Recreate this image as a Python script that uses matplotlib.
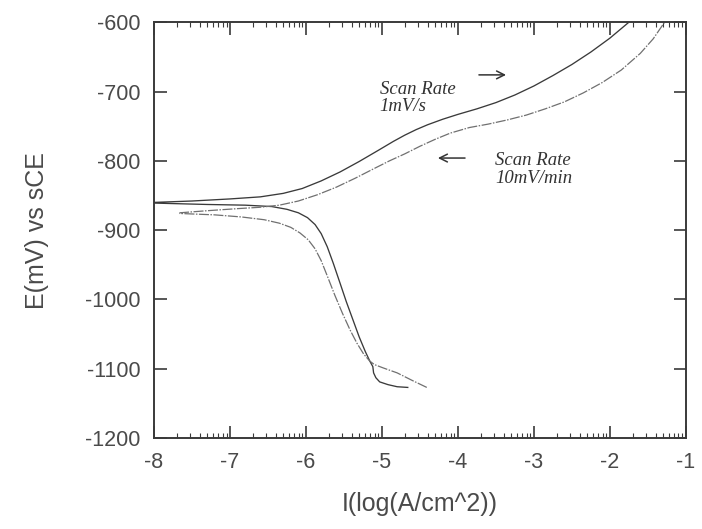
import numpy as np
import matplotlib
matplotlib.use('Agg')
import matplotlib.pyplot as plt
from matplotlib.ticker import FixedLocator

plt.rcParams['axes.unicode_minus'] = False

# curve A - scan rate 1 mV/s (solid)
a_cath_x = [-4.66, -4.80, -4.92, -5.03, -5.08, -5.11, -5.12, -5.16, -5.22, -5.30, -5.38, -5.47, -5.55,
            -5.64, -5.72, -5.80, -5.88, -5.98, -6.10, -6.25, -6.45, -6.8, -7.3, -8.0]
a_cath_y = [-1127, -1126, -1123, -1119, -1113, -1106, -1097, -1089, -1075, -1054, -1030, -1003, -977,
            -948, -924, -905, -892, -882, -875, -870, -866, -864, -863, -861]
a_anod_x = [-8.0, -7.5, -7.0, -6.6, -6.3, -6.05, -5.8, -5.55, -5.3, -5.05, -4.85, -4.7, -4.55, -4.4,
            -4.2, -4.0, -3.75, -3.5, -3.25, -3.0, -2.75, -2.5, -2.25, -2.0, -1.75]
a_anod_y = [-860, -858, -855, -852, -847, -840, -829, -816, -801, -785, -772, -763, -755, -748,
            -740, -733, -725, -716, -705, -692, -677, -661, -643, -623, -600]

# curve B - scan rate 10 mV/min (lighter)
b_cath_x = [-4.41, -4.60, -4.80, -4.98, -5.10, -5.16, -5.24, -5.33, -5.42, -5.52, -5.62, -5.72,
            -5.80, -5.88, -5.97, -6.08, -6.20, -6.35, -6.55, -6.85, -7.2, -7.66]
b_cath_y = [-1127, -1117, -1106, -1099, -1094, -1089, -1079, -1063, -1044, -1020, -994, -966,
            -944, -927, -914, -904, -896, -890, -885, -881, -878, -876]
b_anod_x = [-7.66, -7.3, -6.9, -6.6, -6.35, -6.1, -5.85, -5.6, -5.35, -5.1, -4.9, -4.7, -4.5,
            -4.3, -4.1, -3.85, -3.6, -3.35, -3.1, -2.85, -2.6, -2.35, -2.1, -1.85, -1.6, -1.43, -1.28]
b_anod_y = [-875, -872, -869, -867, -864, -858, -849, -838, -825, -811, -800, -790, -779,
            -769, -760, -752, -747, -741, -734, -725, -715, -702, -687, -669, -645, -624, -600]

x_ticks = [-8, -7, -6, -5, -4, -3, -2, -1]
y_ticks = [-1200, -1100, -1000, -900, -800, -700, -600]

fig = plt.figure(figsize=(7.02, 5.29), dpi=100)
ax = fig.add_axes([0.2194, 0.172, 0.7576, 0.786])

ink = '#3a3a3a'
ax.plot(a_cath_x + a_anod_x, a_cath_y + a_anod_y, color=ink, lw=0.95)
ax.plot(b_cath_x + b_anod_x, b_cath_y + b_anod_y, color='#707070', lw=0.9,
        linestyle=(0, (8, 1.2, 1.2, 1.2)))

ax.set_xlim(-8, -1)
ax.set_ylim(-1200, -600)
ax.set_xticks(x_ticks)
ax.set_yticks(y_ticks)
minor = [d + np.log10(k) for d in x_ticks[:-1] for k in range(2, 10)]
ax.xaxis.set_minor_locator(FixedLocator(minor))

ax.tick_params(axis='both', which='major', direction='in', top=True, right=True,
               length=9, width=1.2, color=ink, labelsize=15.5, labelcolor='#4a4a4a', pad=10)
ax.tick_params(axis='x', which='minor', direction='in', top=True, length=3.5, width=0.8, color=ink)
for sp in ax.spines.values():
    sp.set_color(ink)
    sp.set_linewidth(1.4)

for lab in ax.get_xticklabels() + ax.get_yticklabels():
    lab.set_family('Liberation Sans')

ax.set_xlabel('I(log(A/cm^2))', fontsize=18, color='#4a4a4a', family='Liberation Sans', labelpad=14)
ax.set_ylabel('E(mV) vs sCE', fontsize=18, color='#4a4a4a', family='Liberation Sans', labelpad=26)

# annotations
txt = dict(fontsize=13.5, style='italic', family='Liberation Serif', color='#333333', va='center')
ax.text(-5.03, -697, 'Scan Rate', **txt)
ax.text(-5.03, -722, '1mV/s', **txt)
ax.annotate('', xy=(-3.33, -676), xytext=(-3.76, -676),
            arrowprops=dict(arrowstyle='->', color='#333333', lw=1.1, mutation_scale=14))
ax.text(-3.51, -799, 'Scan Rate', **txt)
ax.text(-3.51, -826, '10mV/min', **txt)
ax.annotate('', xy=(-4.30, -796), xytext=(-3.87, -796),
            arrowprops=dict(arrowstyle='->', color='#333333', lw=1.1, mutation_scale=14))

fig.savefig('out.png', dpi=100)
